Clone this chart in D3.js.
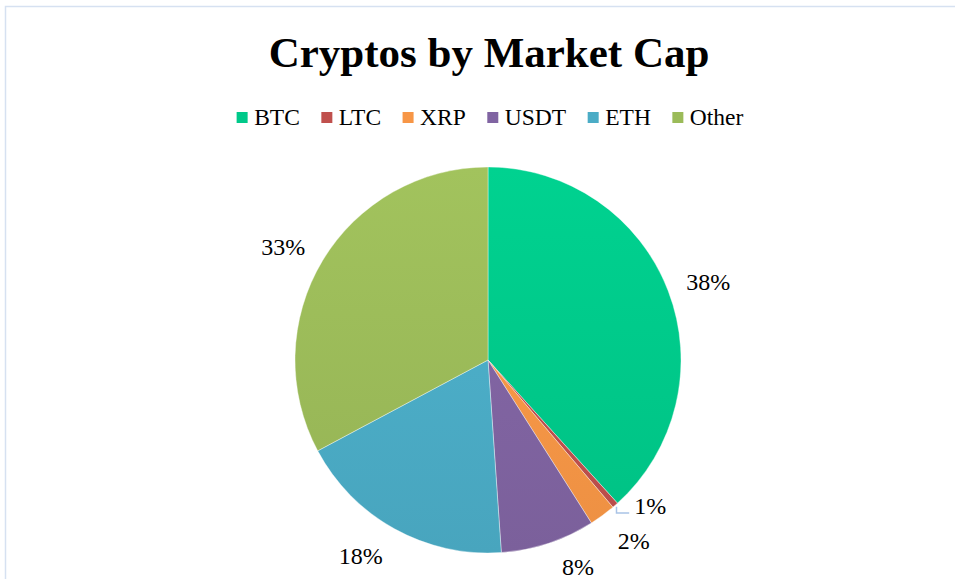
<!DOCTYPE html>
<html>
<head>
<meta charset="utf-8">
<script src="https://cdn.jsdelivr.net/npm/d3@7"></script>
<style>
  body { margin: 0; background: #fff; }
  svg { display: block; }
  text { font-family: "Liberation Serif", "Times New Roman", serif; fill: #000; }
</style>
</head>
<body>
<svg id="chart"></svg>
<script>
// chart data
var coins = ["BTC", "LTC", "XRP", "USDT", "ETH", "Other"];
var shares = [38.3, 0.5, 2.2, 7.9, 18.3, 32.8];
var colors = ["#00c98a", "#c0504d", "#f79646", "#8064a2", "#4bacc6", "#9bbb59"];

var width = 955;
var height = 579;
var cx = 488, cy = 360;
var radius = 193;

var svg = d3.select("#chart")
    .attr("width", width)
    .attr("height", height);

// chart border (only top/left visible in frame)
svg.append("rect")
    .attr("x", 5.5).attr("y", 6.5)
    .attr("width", 980).attr("height", 600)
    .attr("fill", "none")
    .attr("stroke", "#d6e1f1")
    .attr("stroke-width", 1.5);

svg.append("text")
    .attr("x", 489).attr("y", 67)
    .attr("text-anchor", "middle")
    .style("font-size", "43px")
    .style("font-weight", "bold")
    .text("Cryptos by Market Cap");

// gradients, a little lighter at the top (coords relative to pie centre)
var defs = svg.append("defs");
colors.forEach(function (c, i) {
    var g = defs.append("linearGradient")
        .attr("id", "grad" + i)
        .attr("gradientUnits", "userSpaceOnUse")
        .attr("x1", 0).attr("y1", -radius)
        .attr("x2", 0).attr("y2", radius);
    g.append("stop").attr("offset", "0%").attr("stop-color", d3.color(c).brighter(0.12));
    g.append("stop").attr("offset", "100%").attr("stop-color", d3.color(c).darker(0.12));
});

// legend
var legend = svg.append("g").attr("class", "legend");
var items = legend.selectAll("g")
    .data(coins)
    .enter()
    .append("g");
items.append("rect")
    .attr("width", 11).attr("height", 11)
    .attr("y", 112)
    .attr("fill", d => colors[coins.indexOf(d)]);
items.append("text")
    .attr("x", 17.5).attr("y", 125)
    .style("font-size", "23.5px")
    .text(d => d);
var xPos = 0;
var offsets = [];
items.each(function () {
    offsets.push(xPos);
    var w = d3.select(this).select("text").node().getComputedTextLength();
    xPos += 17.5 + w + 21.5;
});
var legendWidth = xPos - 21.5;
var legendStart = 490 - legendWidth / 2;
items.attr("transform", (d, i) => "translate(" + (legendStart + offsets[i]) + ",0)");

// pie
var pie = d3.pie().sort(null).value(d => d);
var arcs = pie(shares);
var arc = d3.arc().innerRadius(0).outerRadius(radius);
var labelArc = d3.arc().innerRadius(234).outerRadius(234);

var g = svg.append("g").attr("transform", "translate(" + cx + "," + cy + ")");

g.selectAll("path")
    .data(arcs)
    .enter()
    .append("path")
    .attr("d", arc)
    .attr("fill", (d, i) => "url(#grad" + i + ")")
    .attr("stroke", "rgba(255,255,255,0.5)")
    .attr("stroke-width", 0.75);

// excel shoves labels around a bit, esp. the crowded small ones
var nudge = {
    BTC: [2, 6], LTC: [8, -30], XRP: [7, -7],
    USDT: [17, -15], ETH: [-14, -9], Other: [-4, 7]
};

var labelPos = arcs.map(function (d, i) {
    var p = labelArc.centroid(d);
    var n = nudge[coins[i]] || [0, 0];
    return [p[0] + n[0], p[1] + n[1]];
});

var labels = g.selectAll(".lbl")
    .data(arcs)
    .enter()
    .append("text")
    .attr("class", "lbl")
    .attr("text-anchor", "middle")
    .style("font-size", "24px")
    .attr("x", (d, i) => labelPos[i][0])
    .attr("y", (d, i) => labelPos[i][1] + 8)
    .text(d => Math.round(d.data) + "%");

// leader line for LTC
var li = coins.indexOf("LTC");
var rim = d3.arc().innerRadius(radius + 2).outerRadius(radius + 2).centroid(arcs[li]);
var ltcW = labels.filter((d, i) => i === li).node().getComputedTextLength();
var lineY = labelPos[li][1] + 7;
g.append("polyline")
    .attr("points", [[rim[0], rim[1]], [rim[0], lineY], [labelPos[li][0] - ltcW / 2 - 5, lineY]].join(" "))
    .attr("fill", "none")
    .attr("stroke", "#a9c3e6")
    .attr("stroke-width", 1.5);
</script>
</body>
</html>
